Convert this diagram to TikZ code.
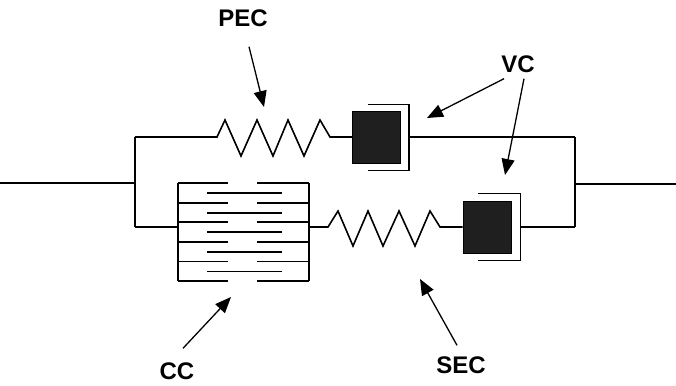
\documentclass[tikz,border=0pt]{standalone}
\usepackage{fontspec}
\setmainfont{Liberation Sans}
\usetikzlibrary{arrows.meta}
\tikzset{
    lbl/.style={font=\fontsize{24}{28}\selectfont\bfseries,inner sep=0pt},
    pointer/.style={-{Triangle[length=16pt,width=13pt]},line width=1.3pt},
    piston/.style={fill=black!88,draw=black,line width=1pt,minimum width=48pt,minimum height=52pt,inner sep=0pt},
    wire/.style={line width=1.6pt}
}
\begin{document}
\begin{tikzpicture}[x=1pt,y=-1pt]
    \useasboundingbox (0,0) rectangle (676,385);
    \node[lbl] (pec) at (243,18) {PEC};
    \node[lbl] (vc) at (518,64) {VC};
    \node[lbl] (cc) at (177,371) {CC};
    \node[lbl] (sec) at (461,365) {SEC};
    \node[piston] (vc1) at (376.5,137) {};
    \node[piston] (vc2) at (487,227) {};
    \coordinate (lj) at (135,183);
    \coordinate (rj) at (575,184);
    \draw[wire] (0,183) -- (lj);
    \draw[wire] (rj) -- (676,184);
    \draw[wire] (135,137) -- (135,227);
    \draw[wire] (575,137) -- (575,227);
    \draw[wire] (135,137) -- (217,137) -- (225,120) -- (241,156) -- (257,120) -- (273,156)
        -- (288,120) -- (304,156) -- (320,120) -- (330,137) -- (vc1.west);
    \draw[wire] ([xshift=8pt]vc1.east) -- (575,137);
    \draw[wire] ([xshift=-9pt,yshift=6pt]vc1.north) -| ([xshift=8pt]vc1.east) |- ([xshift=-9pt,yshift=-7pt]vc1.south);
    \draw[wire] ([xshift=-9pt,yshift=7pt]vc2.north) -| ([xshift=9pt]vc2.east) |- ([xshift=-9pt,yshift=-7pt]vc2.south);
    \draw[wire] (135,227) -- (178,227);
    \draw[wire] (309,227) -- (328,227) -- (338,211) -- (353,246) -- (368,211) -- (383,246)
        -- (399,211) -- (415,246) -- (430,211) -- (440,227) -- (vc2.west);
    \draw[wire] ([xshift=9pt]vc2.east) -- (575,227);
    \draw[line width=1.8pt] (178,183) -- (178,281);
    \draw[line width=1.8pt] (309,183) -- (309,281);
    \foreach \i in {0,...,5}
        \draw[line width=1.8pt] (178,183+19.6*\i) -- (228,183+19.6*\i) (257,183+19.6*\i) -- (309,183+19.6*\i);
    \foreach \i in {0,...,4}
        \draw[line width=1.8pt] (207,193+19.6*\i) -- (282,193+19.6*\i);
    \coordinate (pectip) at (264,107);
    \coordinate (vc1tip) at (427,118);
    \coordinate (vc2tip) at (505,175);
    \coordinate (cctip) at (231,297);
    \coordinate (sectip) at (420,279);
    \draw[pointer] ([xshift=6pt,yshift=-20pt]pec.south) -- (pectip);
    \draw[pointer] ([xshift=-14pt,yshift=-6pt]vc.south) -- (vc1tip);
    \draw[pointer] ([xshift=6pt,yshift=-6pt]vc.south) -- (vc2tip);
    \draw[pointer] ([xshift=6pt,yshift=14pt]cc.north) -- (cctip);
    \draw[pointer] ([xshift=-4pt,yshift=11pt]sec.north) -- (sectip);
\end{tikzpicture}
\end{document}
